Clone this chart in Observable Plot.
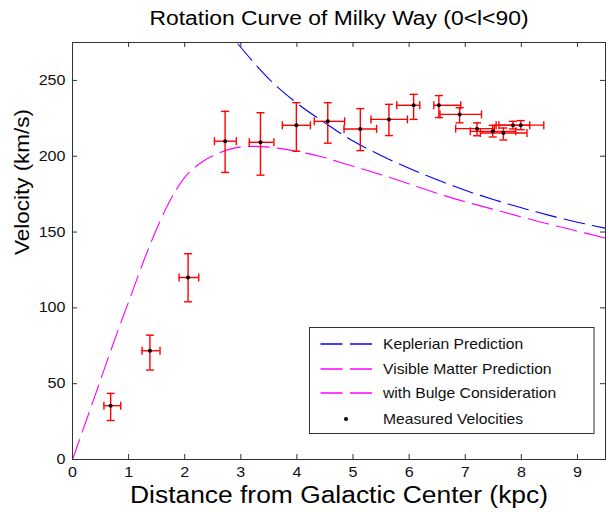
<!DOCTYPE html>
<html>
<head>
<meta charset="utf-8">
<script src="https://cdn.jsdelivr.net/npm/d3@7"></script>
<script src="https://cdn.jsdelivr.net/npm/@observablehq/plot@0.6"></script>
<style>
  html, body { margin: 0; padding: 0; background: #fff; }
  #chart svg { display: block; }
</style>
</head>
<body>
<div id="chart"></div>
<script>
// ---- data ----
const titleText = "Rotation Curve of Milky Way (0<l<90)";
const xLabel = "Distance from Galactic Center (kpc)";
const yLabel = "Velocity (km/s)";
const xTicks = [0, 1, 2, 3, 4, 5, 6, 7, 8, 9];
const yTicks = [0, 50, 100, 150, 200, 250];

// measured velocities with error bars
const dist   = [0.68, 1.38, 2.06, 2.72, 3.35, 3.99, 4.55, 5.13, 5.64, 6.08, 6.53, 6.90, 7.21, 7.49, 7.68, 7.85, 7.99];
const distLo = [0.56, 1.24, 1.90, 2.53, 3.15, 3.74, 4.31, 4.84, 5.32, 5.78, 6.44, 6.55, 6.83, 7.09, 7.27, 7.55, 7.60];
const distHi = [0.86, 1.56, 2.25, 2.92, 3.59, 4.24, 4.85, 5.42, 5.97, 6.19, 6.92, 7.29, 7.52, 7.90, 8.10, 8.15, 8.40];
const vel    = [35.5, 71.7, 120, 209.9, 209.2, 220.4, 223, 218, 224.3, 233.6, 233.6, 227.6, 218.2, 216.4, 215.3, 220.5, 220.5];
const velLo  = [25.7, 59, 104, 189.3, 187.5, 203.3, 208.6, 203.7, 213.6, 224.3, 225.5, 222, 213.5, 212.7, 210.7, 218, 217.5];
const velHi  = [43.6, 82, 135.7, 229.6, 228.7, 235.3, 235.3, 231.4, 234.2, 240.8, 240, 232, 222, 220.4, 218.6, 223, 223.5];

// Keplerian prediction
const keplerR = [2.95, 3.25, 3.5, 4, 4.5, 5, 5.5, 6, 6.5, 7, 7.5, 8, 8.5, 9, 9.5];
const keplerV = [274, 261, 251, 235, 222, 210, 200.5, 192, 184.5, 177.5, 171.5, 166, 161, 156.5, 152.5];

// Visible matter prediction
const visR = [0, 0.4, 0.8, 1.05, 1.3, 1.5, 1.7, 2.0, 2.3, 2.6, 2.9, 3.2, 3.5, 3.8, 4.1, 4.4, 4.9, 5.4, 5.9, 6.5, 7.1, 7.7, 8.3, 8.9, 9.5];
const visV = [0, 42, 84, 109, 134, 152, 168, 186, 196, 202, 205.5, 206.5, 206, 204.5, 202.5, 200, 194.5, 189, 183, 175.5, 169, 163, 157, 151.5, 146];

const legendLabels = ["Keplerian Prediction", "Visible Matter Prediction", "with Bulge Consideration", "Measured Velocities"];
const legendKinds = ["line", "line", "line", "dot"];
const legendColors = ["#0000ff", "#ff00ff", "#ff00ff", "#000000"];

// ---- build tables ----
const measured = dist.map((d, i) => ({x: d, y: vel[i], x1: distLo[i], x2: distHi[i], y1: velLo[i], y2: velHi[i]}));
const kepler = keplerR.map((r, i) => ({r, v: keplerV[i]}));
const visible = visR.map((r, i) => ({r, v: visV[i]}));

const W = 606, H = 512;
const mL = 72, mR = 1, mT = 42, mB = 53;
const frameW = W - mL - mR, frameH = H - mT - mB;
const tickLen = 5;
const axisColor = "#333";
const font = "'Liberation Sans', Arial, sans-serif";

// cap symbols
const capH = {draw(ctx, size) { const h = Math.sqrt(size / Math.PI); ctx.moveTo(-h, 0); ctx.lineTo(h, 0); }};
const capV = {draw(ctx, size) { const h = Math.sqrt(size / Math.PI); ctx.moveTo(0, -h); ctx.lineTo(0, h); }};

const red = "#ff0000";
const dash = "21,8";

const chart = Plot.plot({
  width: W, height: H,
  marginLeft: mL, marginRight: mR, marginTop: mT, marginBottom: mB,
  style: {fontFamily: font, background: "#fff", color: "#000"},
  x: {domain: [0, 9.5]},
  y: {domain: [0, 275]},
  marks: [
    Plot.line(visible, {x: "r", y: "v", stroke: "#ff00ff", strokeWidth: 1.1, strokeDasharray: dash, curve: "monotone-x", clip: true}),
    Plot.line(kepler, {x: "r", y: "v", stroke: "#0000ff", strokeWidth: 1.1, strokeDasharray: dash, curve: "monotone-x", clip: true}),
    // error bars
    Plot.ruleX(measured, {x: "x", y1: "y1", y2: "y2", stroke: red, strokeWidth: 1.4}),
    Plot.ruleY(measured, {y: "y", x1: "x1", x2: "x2", stroke: red, strokeWidth: 1.4}),
    Plot.dot(measured, {x: "x", y: "y1", symbol: capH, r: 4, stroke: red, fill: "none", strokeWidth: 1.4}),
    Plot.dot(measured, {x: "x", y: "y2", symbol: capH, r: 4, stroke: red, fill: "none", strokeWidth: 1.4}),
    Plot.dot(measured, {x: "x1", y: "y", symbol: capV, r: 4, stroke: red, fill: "none", strokeWidth: 1.4}),
    Plot.dot(measured, {x: "x2", y: "y", symbol: capV, r: 4, stroke: red, fill: "none", strokeWidth: 1.4}),
    Plot.dot(measured, {x: "x", y: "y", r: 2, fill: "#000", stroke: "none"}),
    // frame and inward ticks
    Plot.frame({stroke: axisColor, strokeWidth: 1}),
    Plot.tickX(xTicks, {x: d => d, insetTop: frameH - tickLen, stroke: axisColor}),
    Plot.tickX(xTicks, {x: d => d, insetBottom: frameH - tickLen, stroke: axisColor}),
    Plot.tickY(yTicks, {y: d => d, insetRight: frameW - tickLen, stroke: axisColor}),
    Plot.tickY(yTicks, {y: d => d, insetLeft: frameW - tickLen, stroke: axisColor}),
    Plot.axisX(xTicks, {tickSize: 0, tickPadding: 8, fontSize: 14, label: null, fill: "#111"}),
    Plot.axisY(yTicks, {tickSize: 0, tickPadding: 7, fontSize: 14, label: null, fill: "#111"}),
    // title and axis labels
    Plot.text([titleText], {frameAnchor: "top", dy: -24, fontSize: 20, lineAnchor: "middle", fill: "#000"}),
    Plot.text([xLabel], {frameAnchor: "bottom", dy: 36, fontSize: 23, lineAnchor: "middle", fill: "#000"}),
    Plot.text([yLabel], {frameAnchor: "left", dx: -50, dy: 4, rotate: -90, fontSize: 21, lineAnchor: "middle", fill: "#000"})
  ]
});

document.getElementById("chart").appendChild(chart);

const svg = d3.select(chart);

// the reference text is horizontally wider than Arial: stretch it
function stretchTo(sel, len) {
  sel.attr("textLength", len).attr("lengthAdjust", "spacingAndGlyphs");
}
function stretchBy(sel, k) {
  sel.each(function() {
    const n = this.getComputedTextLength();
    d3.select(this).attr("textLength", n * k).attr("lengthAdjust", "spacingAndGlyphs");
  });
}
svg.selectAll("text").each(function() {
  const t = this.textContent;
  if (t === titleText) stretchTo(d3.select(this), 379);
  else if (t === xLabel) stretchTo(d3.select(this), 418);
  else if (t === yLabel) stretchTo(d3.select(this), 146);
});
stretchBy(svg.selectAll("g[aria-label='x-axis tick label'] text, g[aria-label='y-axis tick label'] text"), 1.15);

// legend box
const lg = svg.append("g").attr("font-family", font).attr("font-size", 14.5).attr("text-anchor", "start");
const boxX = 309.5, boxY = 327.5, boxW = 284.5, boxH = 106;
lg.append("rect").attr("x", boxX).attr("y", boxY).attr("width", boxW).attr("height", boxH)
  .attr("fill", "#fff").attr("stroke", axisColor).attr("stroke-width", 1);
const rowY = [344, 369, 393, 419];
legendLabels.forEach((label, i) => {
  const y = rowY[i];
  if (legendKinds[i] === "line") {
    lg.append("line").attr("x1", 320.5).attr("x2", 372).attr("y1", y).attr("y2", y)
      .style("stroke", legendColors[i]).attr("stroke-width", 1.3).attr("stroke-dasharray", "22,7.5");
  } else {
    lg.append("circle").attr("cx", 346).attr("cy", y).attr("r", 2).style("fill", legendColors[i]);
  }
  const t = lg.append("text").attr("x", 383).attr("y", y).attr("dy", "0.35em").attr("fill", "#111").text(label);
  stretchBy(t, 1.08);
});
</script>
</body>
</html>
